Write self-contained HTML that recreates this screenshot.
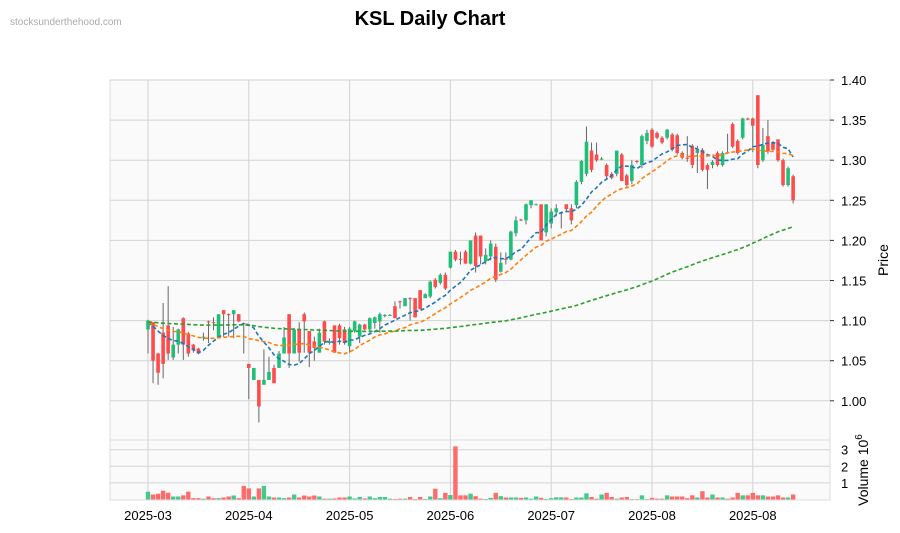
<!DOCTYPE html>
<html><head><meta charset="utf-8"><style>
body{margin:0;background:#fff;width:900px;height:533px;overflow:hidden;font-family:"Liberation Sans",sans-serif}
svg{display:block}
</style></head><body>
<svg id="chart" width="900" height="533">
<text x="10" y="25" font-size="10" fill="#aaa">stocksunderthehood.com</text>
<text x="430" y="25" font-size="20" font-weight="bold" text-anchor="middle" fill="#000">KSL Daily Chart</text>
<rect x="110" y="80" width="720" height="360" fill="#fafafa" stroke="#ddd"/>
<rect x="110" y="440" width="720" height="60" fill="#fafafa" stroke="#ddd"/>
<g id="grid"></g><g id="vol"></g><g id="candles"></g><g id="mas"></g><g id="axes"></g>
<text transform="translate(888,260) rotate(-90)" font-size="14" text-anchor="middle">Price</text>
<text transform="translate(868,470) rotate(-90)" font-size="14" text-anchor="middle">Volume  10<tspan dy="-6" font-size="10">6</tspan></text>
</svg>
<script>
const opens=[1.089,1.098,1.059,1.085,1.094,1.054,1.070,1.103,1.084,1.070,1.065,1.079,1.099,1.098,1.079,1.113,1.108,1.108,1.108,1.097,1.046,1.026,1.026,1.020,1.026,1.041,1.041,1.059,1.108,1.059,1.089,1.108,1.087,1.074,1.060,1.099,1.072,1.094,1.094,1.089,1.068,1.087,1.080,1.095,1.089,1.097,1.099,1.106,1.107,1.118,1.124,1.118,1.128,1.128,1.138,1.128,1.130,1.151,1.147,1.157,1.166,1.186,1.177,1.186,1.171,1.206,1.206,1.174,1.180,1.192,1.161,1.177,1.176,1.209,1.226,1.225,1.244,1.245,1.245,1.210,1.221,1.235,1.234,1.245,1.240,1.244,1.273,1.283,1.312,1.307,1.302,1.294,1.283,1.283,1.307,1.281,1.274,1.299,1.294,1.324,1.338,1.334,1.328,1.328,1.332,1.331,1.309,1.303,1.318,1.309,1.313,1.294,1.294,1.309,1.294,1.310,1.345,1.324,1.328,1.352,1.352,1.381,1.300,1.330,1.322,1.326,1.300,1.269,1.280];
const highs=[1.101,1.098,1.060,1.122,1.143,1.092,1.090,1.104,1.086,1.071,1.066,1.085,1.100,1.104,1.108,1.113,1.109,1.113,1.108,1.097,1.046,1.041,1.026,1.064,1.055,1.045,1.062,1.092,1.108,1.091,1.098,1.110,1.087,1.080,1.090,1.100,1.078,1.094,1.096,1.092,1.092,1.100,1.096,1.096,1.104,1.105,1.110,1.108,1.108,1.124,1.125,1.128,1.129,1.128,1.138,1.134,1.150,1.153,1.159,1.160,1.186,1.188,1.186,1.188,1.200,1.210,1.206,1.190,1.200,1.196,1.185,1.185,1.212,1.230,1.227,1.246,1.250,1.246,1.245,1.245,1.240,1.245,1.236,1.245,1.245,1.275,1.300,1.342,1.322,1.322,1.304,1.296,1.285,1.312,1.309,1.283,1.300,1.300,1.332,1.338,1.340,1.336,1.330,1.339,1.334,1.333,1.311,1.330,1.320,1.318,1.315,1.296,1.300,1.311,1.311,1.333,1.347,1.326,1.353,1.353,1.353,1.381,1.340,1.350,1.324,1.326,1.302,1.292,1.282];
const lows=[1.059,1.022,1.020,1.028,1.051,1.051,1.059,1.051,1.055,1.060,1.058,1.075,1.072,1.088,1.079,1.080,1.080,1.078,1.098,1.059,1.002,1.026,0.973,1.020,1.026,1.022,1.041,1.059,1.041,1.059,1.049,1.060,1.042,1.050,1.060,1.070,1.070,1.060,1.070,1.070,1.060,1.085,1.072,1.088,1.085,1.090,1.085,1.104,1.106,1.103,1.115,1.118,1.100,1.104,1.114,1.128,1.128,1.140,1.145,1.138,1.165,1.174,1.170,1.171,1.170,1.160,1.170,1.170,1.175,1.148,1.160,1.170,1.175,1.205,1.224,1.220,1.240,1.244,1.200,1.205,1.215,1.230,1.215,1.235,1.220,1.240,1.270,1.280,1.285,1.298,1.300,1.276,1.276,1.280,1.274,1.267,1.270,1.296,1.290,1.320,1.315,1.326,1.320,1.326,1.311,1.307,1.301,1.298,1.290,1.284,1.286,1.264,1.290,1.292,1.292,1.308,1.315,1.307,1.326,1.350,1.310,1.290,1.298,1.308,1.311,1.298,1.267,1.267,1.246];
const closes=[1.100,1.050,1.035,1.046,1.059,1.070,1.089,1.070,1.059,1.063,1.059,1.080,1.098,1.097,1.108,1.108,1.107,1.113,1.099,1.096,1.041,1.041,0.993,1.026,1.036,1.022,1.059,1.079,1.059,1.089,1.060,1.099,1.060,1.066,1.085,1.074,1.074,1.060,1.078,1.072,1.090,1.099,1.095,1.089,1.103,1.104,1.108,1.107,1.107,1.103,1.123,1.128,1.127,1.104,1.114,1.133,1.1485,1.142,1.157,1.140,1.186,1.176,1.176,1.171,1.200,1.168,1.180,1.182,1.196,1.151,1.172,1.176,1.211,1.225,1.225,1.245,1.250,1.245,1.200,1.245,1.236,1.240,1.235,1.239,1.225,1.273,1.299,1.323,1.288,1.300,1.302,1.280,1.278,1.312,1.274,1.269,1.294,1.298,1.330,1.334,1.317,1.328,1.322,1.338,1.313,1.309,1.303,1.302,1.294,1.313,1.288,1.288,1.298,1.294,1.309,1.309,1.317,1.309,1.352,1.351,1.343,1.294,1.319,1.311,1.313,1.300,1.269,1.290,1.250];
const volumes=[0.47,0.3,0.35,0.53,0.41,0.18,0.18,0.25,0.47,0.08,0.08,0.05,0.18,0.08,0.08,0.12,0.18,0.24,0.08,0.82,0.67,0.18,0.67,0.82,0.18,0.12,0.12,0.08,0.12,0.3,0.12,0.24,0.18,0.24,0.18,0.05,0.05,0.06,0.12,0.12,0.18,0.06,0.15,0.06,0.18,0.08,0.15,0.15,0.05,0.03,0.05,0.05,0.15,0.03,0.15,0.03,0.18,0.65,0.08,0.4,0.27,3.2,0.25,0.25,0.35,0.2,0.05,0.03,0.1,0.4,0.2,0.12,0.12,0.12,0.1,0.12,0.05,0.18,0.1,0.03,0.08,0.13,0.13,0.12,0.03,0.12,0.12,0.37,0.15,0.05,0.3,0.4,0.15,0.05,0.12,0.15,0.02,0.02,0.25,0.02,0.1,0.05,0.05,0.25,0.18,0.18,0.18,0.08,0.25,0.12,0.5,0.12,0.3,0.12,0.12,0.05,0.12,0.4,0.25,0.25,0.4,0.25,0.25,0.18,0.18,0.25,0.12,0.12,0.3];
const priorCloses=[1.099,1.101,1.097,1.096,1.100,1.102,1.098,1.095,1.097,1.100,1.099,1.096,1.098,1.101,1.097,1.099,1.100,1.098,1.096,1.097,1.101,1.099,1.098,1.100,1.097,1.095,1.098,1.100,1.102,1.099,1.097,1.096,1.099,1.101,1.098,1.097,1.099,1.100,1.098,1.096,1.099,1.101,1.097,1.098,1.100,1.099,1.097,1.098,1.099,1.100,1.100,1.098,1.102,1.097,1.095,1.099,1.101,1.096,1.094,1.098,1.103,1.100,1.097,1.095,1.099,1.102,1.098,1.096,1.100,1.101,1.097,1.095,1.099,1.098,1.100,1.102,1.096,1.097,1.099,1.101,1.098,1.095,1.097,1.100,1.099,1.096,1.098,1.101,1.097,1.096,1.099,1.098,1.100,1.097,1.095,1.098,1.099,1.097,1.098];
const priceTicks=[1.00,1.05,1.10,1.15,1.20,1.25,1.30,1.35,1.40];
const volTicks=[1,2,3];
const dateLabels=["2025-03","2025-04","2025-05","2025-06","2025-07","2025-08","2025-08"];
const dateTickIdx=[0,20,40,60,80,100,120];
const maWindows=[10,20,100];

const NS="http://www.w3.org/2000/svg";
const X0=148,DX=5.04;
const xS=i=>X0+i*DX;
const yP=p=>80+(1.40-p)*802;
const yV=v=>499.5-v*16.6;
function mk(tag,attrs,parent){const e=document.createElementNS(NS,tag);for(const k in attrs)e.setAttribute(k,attrs[k]);document.getElementById(parent).appendChild(e);return e;}

priceTicks.forEach(t=>{
  const l=mk('line',{x1:110,x2:830,y1:yP(t),y2:yP(t),stroke:'#d3d3d3','stroke-width':1},'grid');
  
  
  const tk=mk('line',{x1:830,x2:834,y1:yP(t),y2:yP(t),stroke:'#333'},'axes');
  
  
  const tx=mk('text',{x:841,y:yP(t)+5,'font-size':13,fill:'#000'},'axes');
  tx.textContent=t.toFixed(2);
  
  
});
volTicks.forEach(t=>{
  const l=mk('line',{x1:110,x2:830,y1:yV(t),y2:yV(t),stroke:'#d3d3d3'},'grid');
  
  
  const tx=mk('text',{x:841,y:yV(t)+5,'font-size':13},'axes');
  tx.textContent=t;
  
  
});
dateTickIdx.forEach((d,k)=>{
  const x=xS(d);
  const l=mk('line',{x1:x,x2:x,y1:80,y2:500,stroke:'#d3d3d3'},'grid');
  
  
  const tx=mk('text',{x:x,y:520,'font-size':13,'text-anchor':'middle'},'axes');
  tx.textContent=dateLabels[k];
  
  
});
const UP='#1fbf7a',DN='#ff4b4b';
closes.forEach((c,i)=>{
  const o=opens[i],up=c>=o,x=xS(i);
  const vb=mk('rect',{x:x-2.2,y:yV(volumes[i]),width:4.4,height:Math.max(0.5,499.5-yV(volumes[i])),fill:up?'#42c98e':'#ff6b6b'},'vol');
  
  
  const w=mk('line',{x1:x,x2:x,y1:yP(highs[i]),y2:yP(lows[i]),stroke:'#666','stroke-width':1},'candles');
  
  
  const top=yP(Math.max(o,c)),bot=yP(Math.min(o,c));
  const b=mk('rect',{x:x-1.8,y:top,width:3.6,height:Math.max(1,bot-top),fill:up?UP:DN},'candles');
  
  
});
const all=priorCloses.concat(closes);
const maColors=['#1f77b4','#ff7f0e','#2ca02c'];
maWindows.forEach((w,k)=>{
  const pts=[];
  closes.forEach((c,i)=>{
    const j=priorCloses.length+i;let s=0,n=0;
    for(let m=Math.max(0,j-w+1);m<=j;m++){s+=all[m];n++;}
    pts.push(xS(i).toFixed(1)+','+yP(s/n).toFixed(1));
  });
  const pl=mk('polyline',{points:pts.join(' '),fill:'none',stroke:maColors[k],'stroke-width':1.6,'stroke-dasharray':'4,2.5'},'mas');
  
  
});
</script>
</body></html>
